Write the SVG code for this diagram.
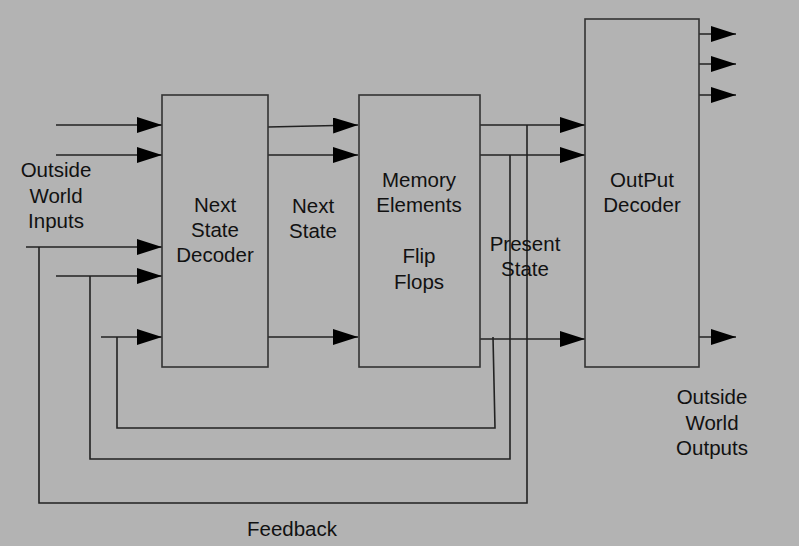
<svg xmlns="http://www.w3.org/2000/svg" width="799" height="546" viewBox="0 0 799 546">
<style>
.box{fill:#b3b3b3;stroke:#333;stroke-width:1.6}
.w{fill:none;stroke:#222;stroke-width:1.6}
.a{marker-end:url(#arr)}
text{font-family:"Liberation Sans",Arial,sans-serif;font-size:20.5px;fill:#111;text-anchor:middle}
</style>
<defs>
<marker id="arr" markerUnits="userSpaceOnUse" viewBox="0 0 25 16" refX="25" refY="8" markerWidth="25" markerHeight="16" orient="auto">
<path d="M0,0 L25,8 L0,16 z" fill="#000"/>
</marker>
</defs>
<rect width="799" height="546" fill="#b3b3b3"/>
<g id="connectors">
<path class="w a" d="M56,125 H162"/>
<path class="w a" d="M56,155 H162"/>
<path class="w a" d="M26,247 H162"/>
<path class="w a" d="M56,276 H162"/>
<path class="w a" d="M101,337 H162"/>
<path class="w a" d="M268,127 L358,125"/>
<path class="w a" d="M268,155 H358"/>
<path class="w a" d="M268,337 H358"/>
<path class="w a" d="M480,125 H585"/>
<path class="w a" d="M480,155 H585"/>
<path class="w a" d="M478,339 H585"/>
<path class="w a" d="M699,34 H736"/>
<path class="w a" d="M699,64 H736"/>
<path class="w a" d="M699,95 H736"/>
<path class="w a" d="M699,337 H736"/>
<path class="w" d="M527,125 V503 H39 V247"/>
<path class="w" d="M510,155 V459 H90 V276"/>
<path class="w" d="M493,337 L495,428 H117 V337"/>
</g>
<g id="next-state-decoder">
<rect class="box" x="162" y="95" width="106" height="272"/>
<text x="215" y="212">Next</text>
<text x="215" y="237">State</text>
<text x="215" y="262">Decoder</text>
</g>
<g id="memory-elements">
<rect class="box" x="359" y="95" width="121" height="272"/>
<text x="419" y="187">Memory</text>
<text x="419" y="212">Elements</text>
<text x="419" y="263">Flip</text>
<text x="419" y="289">Flops</text>
</g>
<g id="output-decoder">
<rect class="box" x="585" y="19" width="114" height="348"/>
<text x="642" y="187">OutPut</text>
<text x="642" y="212">Decoder</text>
</g>
<g id="labels">
<text x="56" y="177">Outside</text>
<text x="56" y="203">World</text>
<text x="56" y="228">Inputs</text>
<text x="313" y="213">Next</text>
<text x="313" y="238">State</text>
<text x="525" y="251">Present</text>
<text x="525" y="276">State</text>
<text x="712" y="404">Outside</text>
<text x="712" y="430">World</text>
<text x="712" y="455">Outputs</text>
<text x="292" y="536">Feedback</text>
</g>
</svg>
